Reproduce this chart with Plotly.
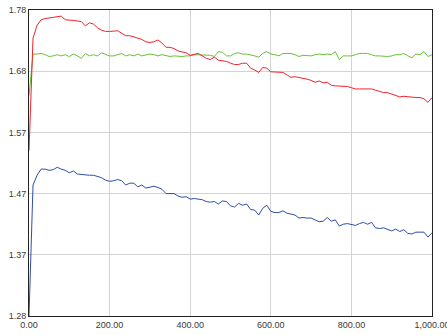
import plotly.graph_objects as go

x_vals = list(range(0, 1001, 10))

red_vals = [
    1.550, 1.734, 1.755, 1.764, 1.766, 1.767, 1.769, 1.770, 1.770, 1.764,
    1.764, 1.763, 1.762, 1.761, 1.754, 1.759, 1.757, 1.751, 1.747, 1.745,
    1.745, 1.745, 1.746, 1.742, 1.738, 1.738, 1.736, 1.734, 1.732, 1.728,
    1.727, 1.728, 1.731, 1.726, 1.719, 1.719, 1.717, 1.713, 1.711, 1.710,
    1.706, 1.707, 1.709, 1.705, 1.701, 1.699, 1.703, 1.698, 1.697, 1.696,
    1.693, 1.691, 1.691, 1.693, 1.693, 1.685, 1.682, 1.678, 1.686, 1.685,
    1.679, 1.679, 1.679, 1.678, 1.674, 1.670, 1.671, 1.670, 1.668, 1.667,
    1.665, 1.662, 1.664, 1.661, 1.662, 1.657, 1.656, 1.656, 1.656, 1.655,
    1.653, 1.651, 1.651, 1.651, 1.652, 1.651, 1.649, 1.647, 1.645, 1.645,
    1.643, 1.641, 1.638, 1.639, 1.638, 1.637, 1.637, 1.637, 1.635, 1.629,
    1.637,
]

green_vals = [
    1.640, 1.708, 1.708, 1.709, 1.707, 1.704, 1.705, 1.707, 1.705, 1.707,
    1.704, 1.708, 1.705, 1.701, 1.709, 1.705, 1.707, 1.705, 1.710, 1.708,
    1.705, 1.705, 1.707, 1.709, 1.705, 1.707, 1.705, 1.708, 1.705, 1.707,
    1.708, 1.707, 1.705, 1.707, 1.705, 1.704, 1.705, 1.704, 1.704, 1.705,
    1.705, 1.707, 1.707, 1.707, 1.707, 1.706, 1.704, 1.712, 1.711, 1.705,
    1.705, 1.709, 1.710, 1.708, 1.708, 1.707, 1.705, 1.703, 1.709, 1.712,
    1.708, 1.707, 1.705, 1.709, 1.709, 1.709, 1.707, 1.704, 1.706, 1.705,
    1.705, 1.707, 1.708, 1.707, 1.708, 1.707, 1.712, 1.699, 1.705, 1.705,
    1.705, 1.707, 1.709, 1.709, 1.709, 1.707, 1.705, 1.705, 1.704, 1.704,
    1.705, 1.707, 1.707, 1.709, 1.705, 1.702, 1.708, 1.707, 1.712, 1.704,
    1.707,
]

blue_vals = [
    1.280, 1.494, 1.510, 1.520, 1.520, 1.518, 1.519, 1.523, 1.520, 1.518,
    1.514, 1.517, 1.512, 1.511, 1.511, 1.510, 1.510, 1.508, 1.506, 1.502,
    1.500, 1.501, 1.503, 1.501, 1.494, 1.497, 1.497, 1.491, 1.494, 1.489,
    1.491, 1.492, 1.490, 1.487, 1.480, 1.480, 1.480, 1.476, 1.474, 1.475,
    1.471, 1.472, 1.471, 1.470, 1.467, 1.466, 1.467, 1.463, 1.468, 1.467,
    1.460, 1.458, 1.464, 1.461, 1.463, 1.454, 1.453, 1.445, 1.456, 1.461,
    1.451, 1.449, 1.449, 1.452, 1.448, 1.447, 1.445, 1.440, 1.441, 1.440,
    1.440, 1.437, 1.434, 1.435, 1.441, 1.435, 1.437, 1.427, 1.430, 1.431,
    1.429, 1.428, 1.431, 1.433, 1.430, 1.433, 1.424, 1.423, 1.424, 1.422,
    1.419, 1.422, 1.418, 1.421, 1.415, 1.414, 1.417, 1.417, 1.417, 1.409,
    1.416,
]

x_ticks = [0, 200, 400, 600, 800, 1000]
y_tick_positions = [1.28, 1.38, 1.48, 1.58, 1.68, 1.78]
y_tick_labels = ["1.28", "1.37", "1.47", "1.57", "1.68", "1.78"]

fig = go.Figure()
for vals, color in [(green_vals, "#66c23a"), (red_vals, "#f2222a"), (blue_vals, "#2e4ea8")]:
    fig.add_trace(go.Scatter(x=x_vals, y=vals, mode="lines",
                             line=dict(color=color, width=1), showlegend=False,
                             hoverinfo="skip"))

font = dict(family="Liberation Sans, Arial, sans-serif", size=9, color="#3a3a3a")

fig.update_layout(
    width=447, height=335,
    margin=dict(l=29, r=15, t=10, b=19, autoexpand=False),
    paper_bgcolor="white", plot_bgcolor="white",
    font=font,
    xaxis=dict(range=[0, 1000], tickvals=x_ticks, tickformat=",.2f",
               showgrid=True, gridcolor="#d3d3d3", gridwidth=1,
               showline=True, linecolor="#222222", linewidth=1, mirror=True,
               zeroline=False, ticks="", tickfont=font, automargin=False,
               ticklabeloverflow="allow"),
    yaxis=dict(range=[1.28, 1.78], tickvals=y_tick_positions, ticktext=y_tick_labels,
               showgrid=True, gridcolor="#d3d3d3", gridwidth=1,
               showline=True, linecolor="#222222", linewidth=1, mirror=True,
               zeroline=False, ticks="", tickfont=font, automargin=False,
               ticklabeloverflow="allow"),
)

fig.write_html(
    "out.html",
    config={"displayModeBar": False},
    post_script="document.body.style.margin='0';document.body.style.overflow='hidden';",
)
